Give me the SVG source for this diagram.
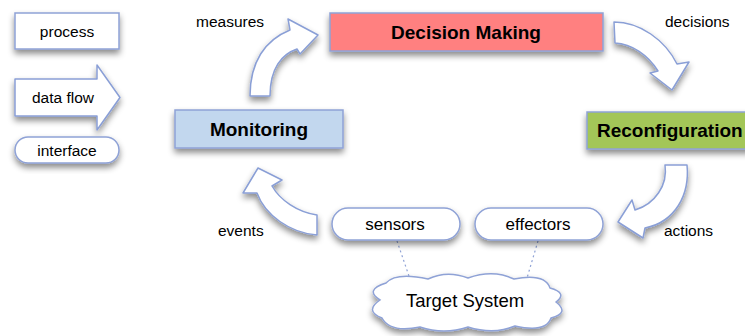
<svg xmlns="http://www.w3.org/2000/svg" width="745" height="336" viewBox="0 0 745 336">
<defs>
<filter id="sh" x="-20%" y="-30%" width="140%" height="170%">
<feDropShadow dx="0" dy="4" stdDeviation="3" flood-color="#000" flood-opacity="0.45"/>
</filter>
<style>
.box{stroke:#8fa2d6;stroke-width:1.5;filter:url(#sh)}
.flow{fill:#fff;stroke:#8a9fd6;stroke-width:1.5;stroke-linejoin:round;filter:url(#sh)}
.pill{fill:#fff;stroke:#8fa2d6;stroke-width:1.5;filter:url(#sh)}
.dot{fill:none;stroke:#8fa2d6;stroke-width:1.2;stroke-dasharray:2 3}
.t{font-family:"Liberation Sans",Arial,sans-serif;font-size:15.5px;fill:#000}
.b{font-family:"Liberation Sans",Arial,sans-serif;font-size:19px;font-weight:bold;fill:#000;text-anchor:middle}
.m{text-anchor:middle}
</style>
</defs>
<rect width="745" height="336" fill="#fff"/>

<g id="legend-process">
<rect class="box" x="15" y="13" width="104" height="36" fill="#fff"/>
<text class="t m" x="67" y="36.5">process</text>
</g>
<g id="legend-dataflow">
<path class="flow" d="M15,79 L97,79 L97,65 L120,97.5 L97,130 L97,116 L15,116 Z"/>
<text class="t m" x="63" y="103">data flow</text>
</g>
<g id="legend-interface">
<rect class="pill" x="15" y="137" width="104" height="26" rx="13"/>
<text class="t m" x="67" y="155.5">interface</text>
</g>

<g id="connectors">
<path class="flow" d="M250,96 C250,62 265,40 290,30 L288,19 L318,35 L300,54 L297,49 C282,54 270,68 270,96 Z"/>
<path class="flow" d="M614,22 C640,22 665,40 677,64 L689,62 L672,90 L650,73 L658,71 C648,55 632,44 615,43 Z"/>
<path class="flow" d="M665,165 L687,165 C690,195 675,222 645,228 L643,238 L618,222 L632,200 L635,210 C655,204 668,185 665,165 Z"/>
<path class="flow" d="M317,215 L317,235 C290,233 265,215 257,193 L243,193 L258,168 L282,180 L272,186 C280,200 297,212 317,215 Z"/>
<path class="dot" d="M397,241 L410,279"/>
<path class="dot" d="M538,241 L527,278"/>
<text class="t" x="196" y="27">measures</text>
<text class="t" x="665" y="27">decisions</text>
<text class="t" x="218" y="236">events</text>
<text class="t" x="664" y="235.5">actions</text>
</g>

<g id="node-decision">
<rect class="box" x="330" y="13" width="273" height="38" fill="#ff8080"/>
<text class="b" x="466" y="38.5">Decision Making</text>
</g>
<g id="node-monitoring">
<rect class="box" x="175" y="110" width="168" height="38" fill="#c2d7ee"/>
<text class="b" x="259" y="135.5">Monitoring</text>
</g>
<g id="node-reconfiguration">
<rect class="box" x="587" y="112" width="165" height="37" fill="#a3c659"/>
<text class="b" x="597" y="136.5" style="text-anchor:start">Reconfiguration</text>
</g>
<g id="node-sensors">
<rect class="pill" x="332" y="208" width="128" height="32" rx="16"/>
<text class="t m" x="395" y="230" style="font-size:17px">sensors</text>
</g>
<g id="node-effectors">
<rect class="pill" x="475" y="208" width="128" height="32" rx="16"/>
<text class="t m" x="538" y="230" style="font-size:17px">effectors</text>
</g>
<g id="node-target">
<path class="pill" d="M380,300 Q364,290 386,283 Q396,272 428,279 Q447,270 468,278 Q493,269 514,279 Q545,273 550,288 Q568,293 556,302 Q570,313 551,318 Q546,333 515,326 Q494,335 468,327 Q444,335 420,327 Q390,333 382,318 Q364,311 380,300 Z"/>
<text class="t m" x="465" y="307" style="font-size:18.5px">Target System</text>
</g>
</svg>
